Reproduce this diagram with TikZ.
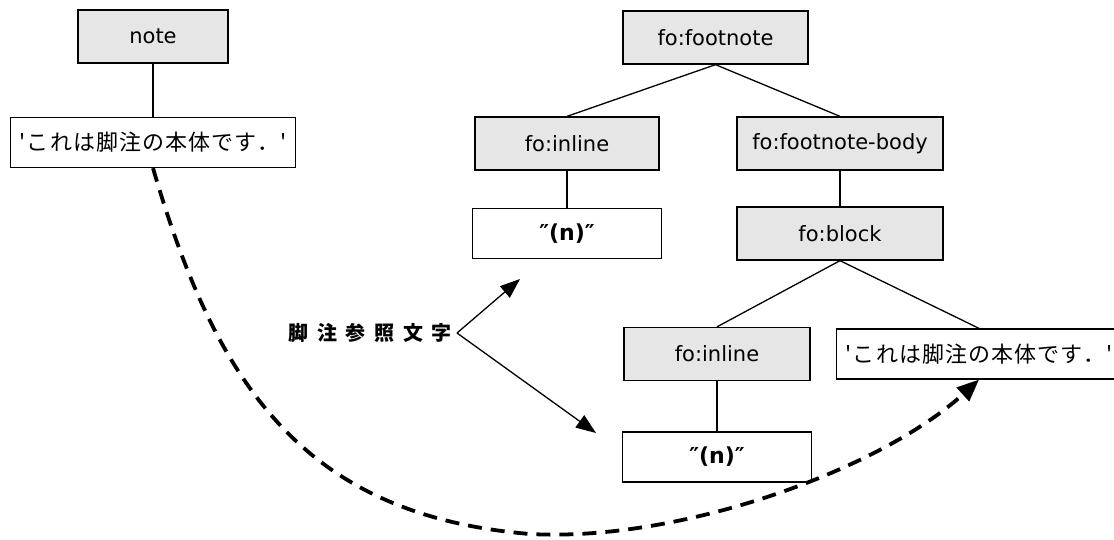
\documentclass[tikz,border=0pt]{standalone}
\usepackage{fontspec}
\setmainfont{DejaVu Sans}
\newfontfamily\jpfont{Noto Sans CJK JP}[LetterSpace=5]
\newfontfamily\jpwide{Noto Sans CJK JP}[LetterSpace=43]
\usetikzlibrary{arrows.meta}
\definecolor{boxgray}{HTML}{E6E6E6}

\begin{document}
\begin{tikzpicture}[x=1pt,y=1pt,
      elem/.style={draw, line width=1.3pt, fill=boxgray, minimum height=53pt, inner sep=0pt,
        font=\fontsize{21pt}{24pt}\selectfont},
      lit/.style={draw, line width=1.3pt, fill=white, minimum height=50pt, inner sep=0pt},
      jptext/.style={font=\fontsize{22pt}{26pt}\selectfont\jpfont},
      numtext/.style={font=\fontsize{22pt}{26pt}\selectfont\bfseries},
      lbl/.style={font=\fontsize{20pt}{24pt}\selectfont\jpwide\bfseries},
      refarrow/.style={line width=1.3pt, -{Triangle[length=20pt,width=15pt]}},
      noteflow/.style={line width=3.8pt, dash pattern=on 14pt off 9pt,
        -{Triangle[length=22pt,width=18pt]}},
      edge from parent/.style={draw, line width=1.3pt},
      edge from parent path={(\tikzparentnode.south) -- (\tikzchildnode.north)},
      level 1/.style={level distance=106pt, sibling distance=273pt},
      level 2/.style={level distance=90pt},
      level 3/.style={level distance=120.5pt, sibling distance=262pt},
      level 4/.style={level distance=103pt}]
    \useasboundingbox (0,0) rectangle (1114,-539);

    % source tree
    \node[elem, minimum width=150pt] (note) at (153,-36.5) {note}
    child {
      node[lit, jptext, minimum width=285pt] (body1) {'これは脚注の本体です．'}
    };

    % result tree
    \node[elem, minimum width=185pt] (foot) at (715.5,-37.5) {fo:footnote}
    child[xshift=-12pt] {
      node[elem, minimum width=184pt] (inl) {fo:inline}
      child {
        node[lit, numtext, minimum width=189pt] (num) {″(n)″}
      }
    }
    child[xshift=-12pt] {
      node[elem, minimum width=206pt] (fbody) {fo:footnote-body}
      child {
        node[elem, minimum width=206pt] (blk) {fo:block}
        child[xshift=8pt] {
          node[elem, minimum width=186pt] (inl2) {fo:inline}
          child {
            node[lit, numtext, minimum width=189pt] (num2) {″(n)″}
          }
        }
        child[xshift=8pt] {
          node[lit, jptext, minimum width=285pt] (body2) {'これは脚注の本体です．'}
        }
      }
    };

    % label and arrows
    \node[lbl, anchor=east, inner sep=0pt, inner xsep=5pt] (refl) at (457,-333) {脚注参照文字};
    \coordinate (tipup) at (520,-279);
    \coordinate (tipdown) at (596,-433);
    \draw[refarrow] (refl.east) -- (tipup);
    \draw[refarrow] (refl.east) -- (tipdown);

    \coordinate (low) at (530,-534);
    \draw[noteflow] (body1.south) .. controls (215,-380) and (300,-515) .. (low)
      .. controls (680,-542) and (880,-470) .. (body2.south);
\end{tikzpicture}
\end{document}
